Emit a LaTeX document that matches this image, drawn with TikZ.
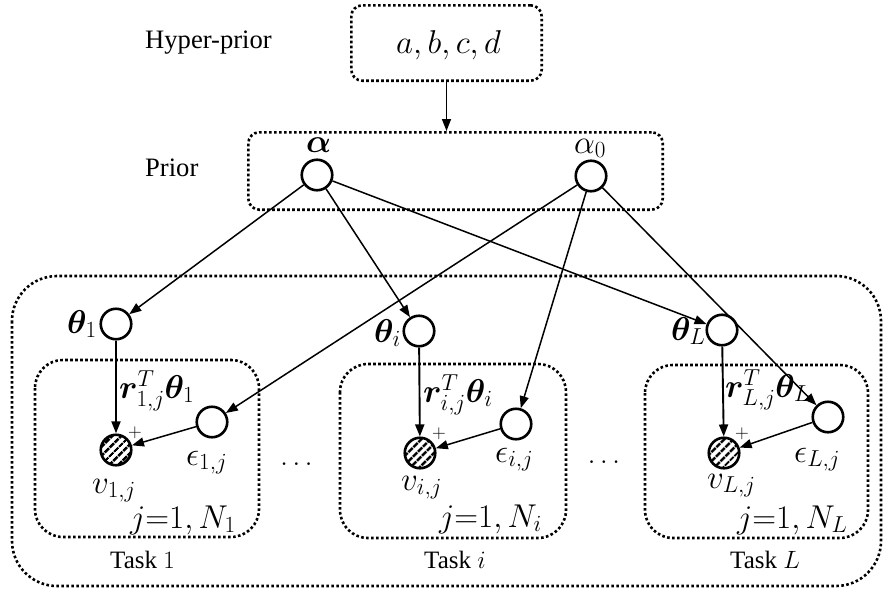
\RequirePackage{fix-cm}
\documentclass[tikz,border=0pt]{standalone}
\usepackage[no-math]{fontspec}
\setmainfont{Liberation Serif}
\newfontfamily\capfont{Liberation Serif}
\usepackage{amsmath,bm}
\usetikzlibrary{arrows.meta,patterns.meta}

\tikzset{
  lvl/.style={font=\capfont\fontsize{26.6}{32}\selectfont, inner sep=0pt},
  tsk/.style={font=\capfont\fontsize{25}{30}\selectfont, inner sep=0pt},
  mth/.style={font=\fontsize{33}{40}\selectfont, inner sep=0pt},
  plus/.style={font=\fontsize{19}{23}\selectfont, inner sep=0pt},
  var/.style={circle, draw, line width=2.6pt, minimum size=30.5pt, inner sep=0pt, fill=white},
  obs/.style={circle, draw, line width=2.6pt, minimum size=30.5pt, inner sep=0pt,
    pattern={Lines[angle=45,distance=6.5pt,line width=2.8pt]}},
  plate/.style={draw, line width=2.6pt, dash pattern=on 2.6pt off 2.4pt, rounded corners=#1},
  edge/.style={-{Triangle[length=12pt,width=9pt]}, line width=1.5pt},
  vedge/.style={edge, line width=1.9pt},
}

\begin{document}
\begin{tikzpicture}[x=1pt,y=-1pt]
\useasboundingbox (0,0) rectangle (883,592);

% level captions
\node[lvl, anchor=base west] (hplab) at (145,48) {Hyper-prior};
\node[lvl, anchor=base west] (plab) at (145,176) {Prior};

% hyper-prior and prior boxes
\node[plate=11pt, minimum width=190.4pt, minimum height=75.4pt] (hyper) at (446.5,43) {};
\node[mth, anchor=base west] (abcd) at (396,53) {$a,b,c,d$};
\node[plate=11pt, minimum width=414.4pt, minimum height=77.4pt] (prior) at (455.5,171) {};

% outer task plate and the per-task data plates
\draw[plate=45pt] (12,276) rectangle (881,586);
\draw[plate=28pt] (35,360) rectangle (259,537);
\draw[plate=28pt] (340,364) rectangle (566,538);
\draw[plate=28pt] (645,365) rectangle (868,538);

% prior variables
\node[var] (alpha) at (317,175) {};
\node[mth, anchor=base west] (alphalab) at (306,152) {$\bm{\alpha}$};
\node[var] (alpha0) at (591,176) {};
\node[mth, anchor=base west] (alpha0lab) at (574,153) {$\alpha_0$};

% task-level weights
\node[var] (th1) at (116,324) {};
\node[var] (thi) at (419,331) {};
\node[var] (thL) at (722,330) {};
\node[mth, anchor=base west] (th1lab) at (67,333) {$\bm{\theta}_1$};
\node[mth, anchor=base west] (thilab) at (374,342) {$\bm{\theta}_i$};
\node[mth, anchor=base west] (thLlab) at (671,340) {$\bm{\theta}_L$};

% noise terms
\node[var] (e1) at (212,422) {};
\node[var] (ei) at (516,424) {};
\node[var] (eL) at (828,417) {};
\node[mth, anchor=base west] (e1lab) at (186,465) {$\epsilon_{1,j}$};
\node[mth, anchor=base west] (eilab) at (495,462) {$\epsilon_{i,j}$};
\node[mth, anchor=base west] (eLlab) at (794,462) {$\epsilon_{L,j}$};

% observed outputs
\node[obs] (v1) at (116,450) {};
\node[obs] (vi) at (420,453) {};
\node[obs] (vL) at (724,453) {};
\node[mth, anchor=base west] (v1lab) at (92,493) {$v_{1,j}$};
\node[mth, anchor=base west] (vilab) at (401,490) {$v_{i,j}$};
\node[mth, anchor=base west] (vLlab) at (707,488) {$v_{L,j}$};
\node[plus] (p1) at (135,433) {$+$};
\node[plus] (pi) at (439,434) {$+$};
\node[plus] (pL) at (742,434) {$+$};

% edge labels of the linear terms
\node[mth, anchor=base west] (r1) at (119,398) {$\bm{r}_{1,j}^T\bm{\theta}_1$};
\node[mth, anchor=base west] (ri) at (423,402) {$\bm{r}_{i,j}^T\bm{\theta}_i$};
\node[mth, anchor=base west] (rL) at (725,397) {$\bm{r}_{L,j}^T\bm{\theta}_L$};

% plate indices and task captions
\node[mth, anchor=base west] (n1) at (130,528) {$j{=}1,N_1$};
\node[mth, anchor=base west] (ni) at (439,527) {$j{=}1,N_i$};
\node[mth, anchor=base west] (nL) at (737,528) {$j{=}1,N_L$};
\node[tsk, anchor=base west] (t1) at (110,568) {Task $1$};
\node[tsk, anchor=base west] (ti) at (424,568) {Task $i$};
\node[tsk, anchor=base west] (tL) at (730,568) {Task $L$};
\node[font=\fontsize{28}{32}\selectfont, inner sep=0pt, anchor=base] (dots1) at (296.5,465) {$\ldots$};
\node[font=\fontsize{28}{32}\selectfont, inner sep=0pt, anchor=base] (dots2) at (604,463) {$\ldots$};

% connectors
\draw[edge] (hyper.south) -- (hyper.south |- prior.north);
\draw[edge] (alpha) -- (th1);
\draw[edge] (alpha) -- (thi);
\draw[edge] (alpha) -- (thL);
\draw[edge] (alpha0) -- (e1);
\draw[edge] (alpha0) -- (ei);
\draw[edge] (alpha0) -- (eL);
\draw[vedge] (th1) -- (v1);
\draw[vedge] (thi) -- (vi);
\draw[vedge] (thL) -- (vL);
\draw[edge] (e1) -- (v1);
\draw[edge] (ei) -- (vi);
\draw[edge] (eL) -- (vL);
\end{tikzpicture}
\end{document}
